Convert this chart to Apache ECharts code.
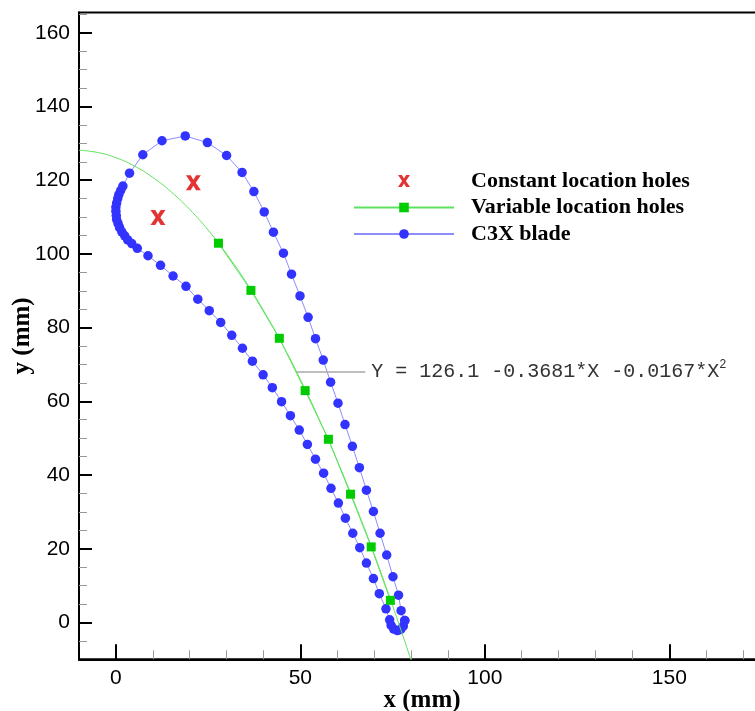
<!DOCTYPE html>
<html>
<head>
<meta charset="utf-8">
<script src="https://cdn.jsdelivr.net/npm/echarts@6/dist/echarts.min.js"></script>
<style>
  html, body { margin: 0; padding: 0; background: #fff; }
  #chart { width: 755px; height: 711px; }
</style>
</head>
<body>
<div id="chart"></div>
<script>
// C3X blade profile (mm), traced as one closed loop:
// trailing edge -> suction side -> leading edge -> pressure side -> trailing edge
const bladeX = [
  78.3, 77.3, 76.6, 75.1, 73.4, 71.6, 69.8, 67.9, 66.0, 64.1,
  62.1, 60.2, 58.2, 56.2, 54.1, 52.1, 49.9, 47.6, 45.4, 42.7,
  40.2, 37.4, 34.2, 30.0, 24.8, 18.8, 12.5, 7.3, 3.7, 1.9,
  1.3, 0.8, 0.5, 0.2, 0.0, 0.0, 0.1, 0.2, 0.6, 1.0,
  1.6, 2.4, 3.2, 4.3, 5.8,
  8.7, 12.1, 15.5, 19.0, 22.2, 25.3, 28.4, 31.4, 34.3, 37.0,
  39.9, 42.4, 44.9, 47.3, 49.7, 51.9, 54.1, 56.3, 58.3, 60.3,
  62.2, 64.2, 66.1, 67.9, 69.8, 71.4, 73.2,
  74.2, 74.6, 75.3, 76.3, 77.2, 77.9, 78.3
];
const bladeY = [
  0.5, 3.2, 7.4, 12.4, 18.3, 24.2, 30.1, 35.9, 42.0, 47.8,
  53.7, 59.5, 65.2, 71.2, 77.0, 82.8, 88.6, 94.5, 100.2, 105.9,
  111.4, 116.9, 122.1, 126.7, 130.2, 132.0, 130.7, 126.9, 121.9, 118.4,
  117.2, 116.1, 115.0, 113.8, 112.7, 111.6, 110.4, 109.3, 108.2, 107.1,
  106.0, 104.9, 103.8, 102.8, 101.5,
  99.5, 96.9, 94.0, 91.2, 87.7, 84.6, 81.4, 77.9, 74.4, 70.9,
  67.2, 63.7, 59.9, 56.1, 52.2, 48.3, 44.3, 40.5, 36.4, 32.4,
  28.3, 24.2, 20.3, 16.1, 11.9, 7.8, 3.7,
  0.7, -0.8, -1.8, -2.2, -1.9, -1.0, 0.5
];

// Film-cooling holes placed along the camber fit
const variableHolesX = [27.8, 36.6, 44.3, 51.3, 57.6, 63.6, 69.2, 74.4];
const variableHolesY = [102.9, 90.1, 77.1, 62.9, 49.7, 34.8, 20.5, 6.0];

// Holes at fixed positions near the leading edge
const constantHolesX = [21.0, 11.4];
const constantHolesY = [119.3, 109.9];

// Quadratic camber fit Y = c0 + c1*X + c2*X^2
const fitCoef = [126.1, -0.3681, -0.0167];
const fitX = [-10, -5, 0, 5, 10, 15, 20, 25, 30, 35, 40, 45, 50, 55, 60, 65, 70, 75, 80];

// Axis ticks
const xMajorTicks = [0, 50, 100, 150];
const xMinorTicks = [10, 20, 30, 40, 60, 70, 80, 90, 110, 120, 130, 140, 160, 170];
const yMajorTicks = [0, 20, 40, 60, 80, 100, 120, 140, 160];
const yMinorTicks = [-5, 5, 10, 15, 25, 30, 35, 45, 50, 55, 65, 70, 75, 85, 90, 95,
                     105, 110, 115, 125, 130, 135, 145, 150, 155, 165];

const zip = (xs, ys) => xs.map((x, i) => [x, ys[i]]);
const fitData = fitX.map(x => [x, fitCoef[0] + fitCoef[1] * x + fitCoef[2] * x * x]);

const X_RANGE = { min: -10, max: 180 };
const Y_RANGE = { min: -10, max: 165.5 };

const tickFont = { fontFamily: 'Liberation Sans', fontSize: 21, color: '#000' };
const titleFont = { fontFamily: 'Liberation Serif', fontWeight: 'bold', fontSize: 25, color: '#000' };

const crossPath = 'path://M0,0 L3.2,0 L5,3 L6.8,0 L10,0 L6.6,5 L10,10 L6.8,10 L5,7 L3.2,10 L0,10 L3.4,5 Z';

const chart = echarts.init(document.getElementById('chart'), null, { renderer: 'canvas' });

chart.setOption({
  animation: false,
  backgroundColor: '#fff',
  grid: {
    left: 79, top: 12.5, width: 701, height: 646.8,
    containLabel: false, outerBoundsMode: 'none',
    show: true, borderColor: '#000', borderWidth: 2, backgroundColor: 'transparent'
  },
  xAxis: [
    {
      type: 'value', ...X_RANGE, position: 'bottom',
      axisLine: { onZero: false, lineStyle: { color: '#000', width: 2 } },
      axisTick: { inside: true, length: 15, customValues: xMajorTicks, lineStyle: { color: '#000', width: 2 } },
      axisLabel: { customValues: xMajorTicks, margin: 8, ...tickFont },
      splitLine: { show: false },
      name: 'x (mm)', nameLocation: 'middle', nameGap: 29, nameMoveOverlap: false,
      nameTextStyle: { ...titleFont, padding: [0, 15, 0, 0] }
    },
    {
      type: 'value', ...X_RANGE, position: 'bottom',
      axisLine: { show: false, onZero: false },
      axisTick: { inside: true, length: 9, customValues: xMinorTicks, lineStyle: { color: '#999', width: 1 } },
      axisLabel: { show: false },
      splitLine: { show: false }
    }
  ],
  yAxis: [
    {
      type: 'value', ...Y_RANGE, position: 'left',
      axisLine: { show: true, onZero: false, lineStyle: { color: '#000', width: 2 } },
      axisTick: { show: true, inside: true, length: 13, customValues: yMajorTicks, lineStyle: { color: '#000', width: 2 } },
      axisLabel: { customValues: yMajorTicks, margin: 9, ...tickFont },
      splitLine: { show: false },
      name: 'y (mm)', nameLocation: 'middle', nameGap: 44, nameMoveOverlap: false,
      nameTextStyle: titleFont
    },
    {
      type: 'value', ...Y_RANGE, position: 'left',
      axisLine: { show: false, onZero: false },
      axisTick: { show: true, inside: true, length: 8, customValues: yMinorTicks, lineStyle: { color: '#999', width: 1 } },
      axisLabel: { show: false },
      splitLine: { show: false }
    }
  ],
  legend: {
    orient: 'vertical', left: 348, top: 165,
    itemWidth: 100, itemHeight: 12, itemGap: 4.5,
    textStyle: { fontFamily: 'Liberation Serif', fontWeight: 'bold', fontSize: 22, lineHeight: 22, color: '#000', padding: [0, 0, 0, 12] },
    data: ['Constant location holes', 'Variable location holes', 'C3X blade']
  },
  series: [
    {
      name: 'C3X blade', type: 'line', data: zip(bladeX, bladeY),
      symbol: 'circle', symbolSize: 9.5, showAllSymbol: true,
      lineStyle: { color: '#8c8cff', width: 1 },
      itemStyle: { color: '#3333ff' },
      z: 3
    },
    {
      name: 'camber fit', type: 'line', data: fitData,
      smooth: true, showSymbol: false,
      lineStyle: { color: '#5fe35f', width: 1 },
      z: 4,
      markLine: {
        silent: true, symbol: ['none', 'none'],
        lineStyle: { color: '#a8a8a8', width: 1.5, type: 'solid' },
        label: {
          position: 'end', distance: 6,
          fontFamily: 'Liberation Mono', fontSize: 20, color: '#333',
          formatter: 'Y = ' + fitCoef[0] + ' ' + fitCoef[1] + '*X ' + fitCoef[2] + '*X{sup|2}',
          rich: { sup: { fontFamily: 'Liberation Mono', fontSize: 12, color: '#333', padding: [0, 0, 14, 0] } }
        },
        data: [[{ coord: [49.0, 67.9] }, { coord: [67.6, 67.9] }]]
      }
    },
    {
      name: 'Variable location holes', type: 'line', data: zip(variableHolesX, variableHolesY),
      symbol: 'rect', symbolSize: 9, showAllSymbol: true,
      lineStyle: { color: '#5fe35f', width: 1 },
      itemStyle: { color: '#00cc00' },
      z: 5
    },
    {
      name: 'Constant location holes', type: 'scatter', data: zip(constantHolesX, constantHolesY),
      symbol: crossPath, symbolSize: 15, symbolKeepAspect: true,
      itemStyle: { color: '#dd0000' },
      z: 6
    }
  ]
});
</script>
</body>
</html>
